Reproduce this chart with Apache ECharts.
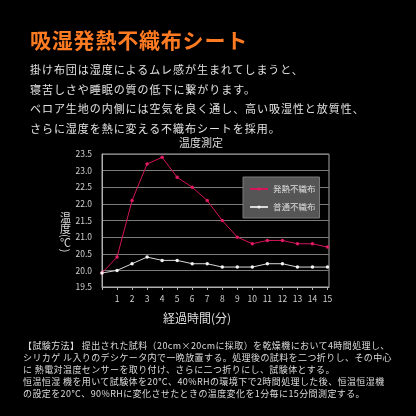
<!DOCTYPE html>
<html><head><meta charset="utf-8">
<script src="https://cdn.jsdelivr.net/npm/echarts@6/dist/echarts.min.js"></script>
<style>
html,body{margin:0;padding:0;background:#000;}
#wrap{position:relative;width:416px;height:416px;background:#000;overflow:hidden;font-family:'Noto Sans CJK JP',sans-serif;}
#chart{position:absolute;left:0;top:0;width:416px;height:416px;}
.t{position:absolute;white-space:pre;}
#head{left:30px;top:29px;font-size:21px;line-height:21px;font-weight:bold;color:#ff7b22;letter-spacing:0.8px;}
#body{left:30px;top:60px;font-size:11px;line-height:19.5px;color:#e2e2e2;letter-spacing:0.95px;}
#foot{left:23px;top:340px;font-size:9px;line-height:11.9px;color:#dcdcdc;letter-spacing:0.4px;}
#yname{left:59.5px;top:212px;font-size:11px;line-height:12px;color:#dcdcdc;writing-mode:vertical-rl;text-orientation:mixed;}
</style></head>
<body>
<div id="wrap">
<div id="chart"></div>
<div class="t" id="head"></div>
<div class="t" id="body"></div>
<div class="t" id="foot"></div>
<div class="t" id="yname"></div>
</div>
<script>
const headline = '吸湿発熱不織布シート';
const bodyLines = [
  '掛け布団は湿度によるムレ感が生まれてしまうと、',
  '寝苦しさや睡眠の質の低下に繋がります。',
  'ベロア生地の内側には空気を良く通し、高い吸湿性と放質性、',
  'さらに湿度を熱に変える不織布シートを採用。'
];
const footLines = [
  '【試験方法】 提出された試料（20cm×20cmに採取）を乾燥機において4時間処理し、',
  'シリカゲ ル入りのデシケータ内で一晩放置する。処理後の試料を二つ折りし、その中心',
  'に 熱電対温度センサーを取り付け、さらに二つ折りにし、試験体とする。',
  '恒温恒湿 機を用いて試験体を20°C、40%RHの環境下で2時間処理した後、恒温恒湿機',
  'の設定を20°C、90%RHに変化させたときの温度変化を1分毎に15分間測定する。'
];
const chartTitle = '温度測定';
const xAxisName = '経過時間(分)';
const yAxisName = '温度(℃)';
const seriesNames = ['発熱不織布', '普通不織布'];
const minutes = [0,1,2,3,4,5,6,7,8,9,10,11,12,13,14,15];
const heatFabric = [19.92,20.4,22.1,23.2,23.4,22.8,22.5,22.1,21.5,21.0,20.8,20.9,20.9,20.8,20.8,20.7];
const normalFabric = [19.92,20.0,20.2,20.4,20.3,20.3,20.2,20.2,20.1,20.1,20.1,20.2,20.2,20.1,20.1,20.1];
const xTickLabels = [1,2,3,4,5,6,7,8,9,10,11,12,13,14,15];

document.getElementById('head').textContent = headline;
document.getElementById('body').textContent = bodyLines.join('\n');
document.getElementById('foot').textContent = footLines.join('\n');
document.getElementById('yname').textContent = yAxisName;

const chart = echarts.init(document.getElementById('chart'), null, {renderer:'canvas'});
const font = 'Noto Sans CJK JP';
chart.setOption({
  backgroundColor:'#000',
  animation:false,
  textStyle:{fontFamily:font},
  title:{text:chartTitle,left:196,top:132,textAlign:'center',
    textStyle:{color:'#dcdcdc',fontSize:11,fontWeight:'normal',fontFamily:font}},
  grid:{left:102,right:87,top:154,bottom:129,show:true,borderColor:'#a8a8a8',borderWidth:1,backgroundColor:'#000'},
  legend:{left:243,top:177,orient:'vertical',backgroundColor:'#555',borderColor:'#7a7a7a',borderWidth:1,
    padding:[7,4,6,6],itemWidth:18,itemHeight:4,itemGap:8,
    textStyle:{color:'#dedede',fontSize:8.5,lineHeight:10,fontFamily:font},
    data:seriesNames},
  xAxis:{type:'value',min:0,max:15.1,interval:1,
    axisLine:{show:true,lineStyle:{color:'#b0b0b0',width:1}},
    axisTick:{show:true,length:3,lineStyle:{color:'#b0b0b0'},customValues:minutes},
    axisLabel:{color:'#cfcfcf',fontSize:8.5,margin:8,fontFamily:font,customValues:xTickLabels,
      formatter:v=>(v>=1&&Number.isInteger(v))?String(v):''},
    splitLine:{show:false}},
  yAxis:{type:'value',min:19.5,max:23.5,interval:0.5,
    axisLine:{show:true,lineStyle:{color:'#b0b0b0',width:1}},
    axisTick:{show:false},
    axisLabel:{color:'#cfcfcf',fontSize:8.5,margin:10,fontFamily:font,formatter:v=>v.toFixed(1)},
    splitLine:{show:true,lineStyle:{color:'#7c7c7c',width:1}}},
  graphic:[
    {type:'text',x:197,y:318,style:{text:xAxisName,fill:'#dcdcdc',font:'12px '+font,align:'center',verticalAlign:'middle'}}
  ],
  series:[
    {name:seriesNames[0],type:'line',data:minutes.map((m,i)=>[m,heatFabric[i]]),
      symbol:'circle',symbolSize:3.5,lineStyle:{color:'#d4145a',width:1},itemStyle:{color:'#e01a63'}},
    {name:seriesNames[1],type:'line',data:minutes.map((m,i)=>[m,normalFabric[i]]),
      symbol:'circle',symbolSize:3.5,lineStyle:{color:'#d8d8d8',width:1},itemStyle:{color:'#f2f2f2'}}
  ]
});
</script>
</body></html>
